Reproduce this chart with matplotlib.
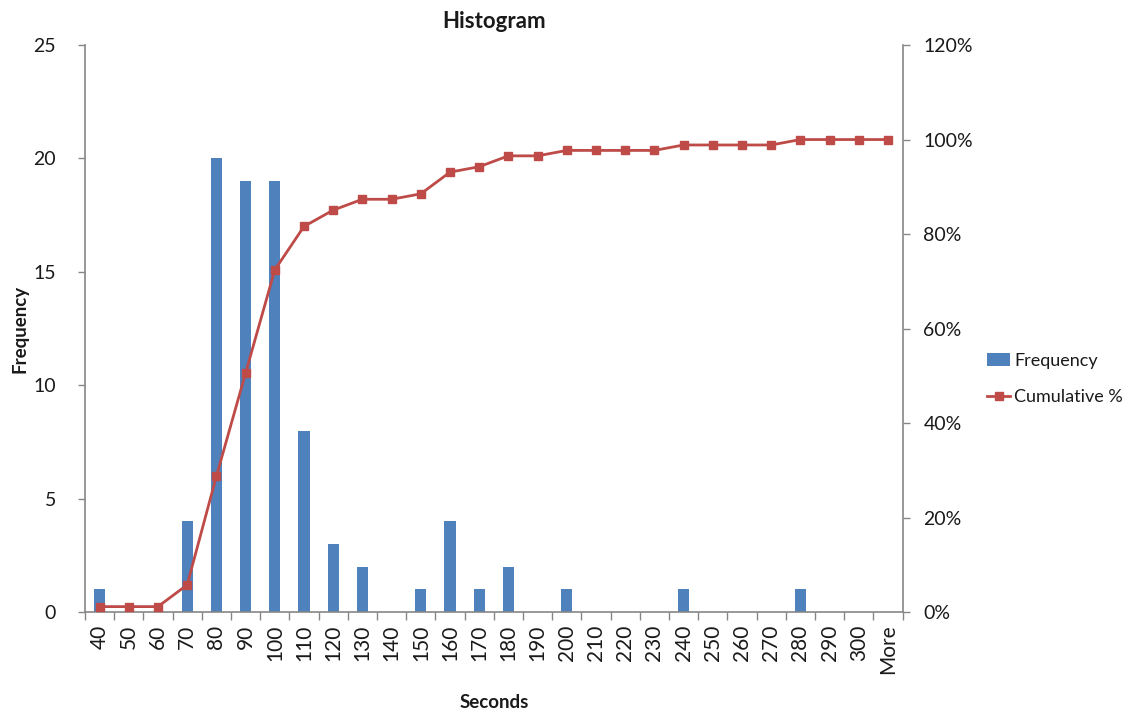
import matplotlib
matplotlib.use("Agg")
import matplotlib.pyplot as plt
from matplotlib.ticker import FuncFormatter, FixedLocator
import numpy as np

plt.rcParams['font.family'] = ['Lato', 'DejaVu Sans']

bins = ["40", "50", "60", "70", "80", "90", "100", "110", "120", "130",
        "140", "150", "160", "170", "180", "190", "200", "210", "220", "230",
        "240", "250", "260", "270", "280", "290", "300", "More"]
frequency = [1, 0, 0, 4, 20, 19, 19, 8, 3, 2,
             0, 1, 4, 1, 2, 0, 1, 0, 0, 0,
             1, 0, 0, 0, 1, 0, 0, 0]
cumulative_pct = [1.15, 1.15, 1.15, 5.75, 28.74, 50.57, 72.41, 81.61, 85.06, 87.36,
                  87.36, 88.51, 93.10, 94.25, 96.55, 96.55, 97.70, 97.70, 97.70, 97.70,
                  98.85, 98.85, 98.85, 98.85, 100.0, 100.0, 100.0, 100.0]

bar_color = "#4F81BD"
line_color = "#BE4B48"
axis_color = "#868686"
text_color = "#1a1a1a"

fig = plt.figure(figsize=(11.42, 7.15), dpi=100)
ax = fig.add_axes([0.0744, 0.144, 0.716, 0.793])
ax2 = ax.twinx()

x = np.arange(len(bins))
bars = ax.bar(x, frequency, width=0.38, color=bar_color, label="Frequency", zorder=2)
line, = ax2.plot(x, cumulative_pct, color=line_color, lw=2, marker="s", markersize=6,
                 label="Cumulative %", zorder=3)

ax.set_xlim(-0.5, len(bins) - 0.5)
ax.set_ylim(0, 25)
ax2.set_ylim(0, 120)
ax.set_yticks(range(0, 26, 5))
ax2.set_yticks(range(0, 121, 20))
ax2.yaxis.set_major_formatter(FuncFormatter(lambda v, p: f"{int(v)}%"))

ax.set_xticks(x)
ax.set_xticklabels(bins, rotation=90, fontsize=15, color=text_color)
ax.tick_params(axis="x", length=0, pad=9)
ax.xaxis.set_minor_locator(FixedLocator(np.arange(-0.5, len(bins), 1.0)))
ax.tick_params(axis="x", which="minor", length=6, width=1, color=axis_color, direction="out")

ax.tick_params(axis="y", length=5, width=1, color=axis_color, direction="out",
               labelsize=14, labelcolor=text_color, pad=16)
ax2.tick_params(axis="y", length=5, width=1, color=axis_color, direction="out",
                labelsize=14, labelcolor=text_color, pad=10)

for a in (ax, ax2):
    a.spines["top"].set_visible(False)
    for s in ("left", "right", "bottom"):
        a.spines[s].set_color(axis_color)
        a.spines[s].set_linewidth(1.2)
ax.spines["right"].set_visible(False)
ax2.spines["left"].set_visible(False)
ax2.spines["bottom"].set_visible(False)

ax.set_title("Histogram", fontsize=16, fontweight="bold", color=text_color, pad=12)
ax.set_xlabel("Seconds", fontsize=13.5, fontweight="bold", color=text_color)
ax.xaxis.set_label_coords(0.5, -0.145)
ax.set_ylabel("Frequency", fontsize=13.5, fontweight="bold", color=text_color)
ax.yaxis.set_label_coords(-0.069, 0.5)

fig.legend(handles=[bars, line], labels=["Frequency", "Cumulative %"],
           loc="center left", bbox_to_anchor=(0.85, 0.47), frameon=False,
           fontsize=13, handlelength=1.3, handletextpad=0.2, labelspacing=1.1,
           labelcolor=text_color)

fig.savefig("out.png", dpi=100, facecolor="white")
